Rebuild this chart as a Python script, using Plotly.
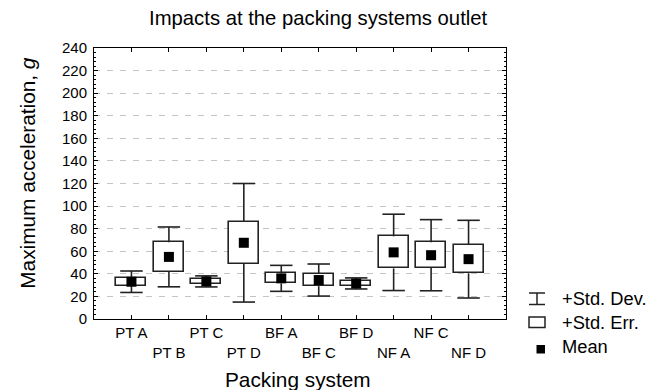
import plotly.graph_objects as go

categories = ["PT A", "PT B", "PT C", "PT D", "BF A", "BF C", "BF D", "NF A", "NF C", "NF D"]
means = [33, 55, 33.3, 67.5, 36, 34.5, 31.5, 59, 56.5, 53]
std_err = [3.5, 13, 2.0, 18.7, 4.4, 5.4, 2.3, 14.2, 11.4, 12.5]
std_dev = [9.5, 26.5, 4.9, 52.5, 11.5, 14.2, 4.9, 33.8, 31.5, 34.4]
y_ticks = list(range(0, 241, 20))

xpos = list(range(1, len(categories) + 1))
ticktext = [c if i % 2 == 0 else "<br>" + c for i, c in enumerate(categories)]

FONT = "Liberation Sans, Arial, sans-serif"
LINE = "#222222"
CAP = 0.3

fig = go.Figure()

# Std. Err. boxes
fig.add_trace(go.Bar(
    x=xpos,
    y=[2 * s for s in std_err],
    base=[m - s for m, s in zip(means, std_err)],
    width=0.8,
    marker=dict(color="white", line=dict(color=LINE, width=1.6)),
    showlegend=False, hoverinfo="skip",
))

# Std. Dev. whiskers (outside of boxes) with caps
wx, wy = [], []
for x, m, se, sd in zip(xpos, means, std_err, std_dev):
    wx += [x, x, None, x, x, None, x - CAP, x + CAP, None, x - CAP, x + CAP, None]
    wy += [m + se, m + sd, None, m - se, m - sd, None, m + sd, m + sd, None, m - sd, m - sd, None]
fig.add_trace(go.Scatter(
    x=wx, y=wy, mode="lines",
    line=dict(color=LINE, width=1.6),
    showlegend=False, hoverinfo="skip",
))

# Means
fig.add_trace(go.Scatter(
    x=xpos, y=means, mode="markers",
    marker=dict(symbol="square", size=10, color="black"),
    showlegend=False,
))

fig.update_layout(
    width=660, height=390,
    margin=dict(l=94, r=154, t=48, b=71),
    paper_bgcolor="white", plot_bgcolor="white",
    font=dict(family=FONT, size=15, color="black"),
    title=dict(text="Impacts at the packing systems outlet", x=0.482, xanchor="center",
               y=0.955, yanchor="middle", font=dict(size=20.3)),
    bargap=0,
)

fig.update_xaxes(
    range=[0, 11], tickmode="array", tickvals=xpos, ticktext=ticktext,
    showline=True, linecolor="black", linewidth=1, mirror="ticks",
    ticks="inside", ticklen=4, tickcolor="black", showgrid=False, zeroline=False,
)
fig.update_yaxes(
    range=[0, 240], tickmode="array", tickvals=y_ticks,
    showline=True, linecolor="black", linewidth=1, mirror="ticks",
    ticks="inside", ticklen=4, tickcolor="black",
    minor=dict(ticks="inside", ticklen=2, dtick=4, tickcolor="black", showgrid=False),
    showgrid=True, gridcolor="#c4c4c4", griddash="6px,7px", gridwidth=1,
    zeroline=False, ticklabelstandoff=3,
)

# Axis titles
fig.add_annotation(text="Maximum acceleration, <i>g</i>", xref="paper", yref="paper",
                   x=-0.16, y=0.54, textangle=-90, showarrow=False,
                   font=dict(size=20.8), xanchor="center", yanchor="middle")
fig.add_annotation(text="Packing system", xref="paper", yref="paper",
                   x=0.495, y=-0.222, showarrow=False, font=dict(size=20.8),
                   xanchor="center", yanchor="middle")

# Legend (drawn manually)
def px(x):
    return (x - 94) / (506 - 94)
def py(y):
    return (319 - y) / (319 - 48)
for (x0, y0, x1, y1) in [(529, 293, 545, 293), (529, 304.5, 545, 304.5), (537, 293, 537, 304.5)]:
    fig.add_shape(type="line", xref="paper", yref="paper", x0=px(x0), y0=py(y0), x1=px(x1), y1=py(y1),
                  line=dict(color=LINE, width=1.5))
fig.add_shape(type="rect", xref="paper", yref="paper", x0=px(529), y0=py(317), x1=px(545), y1=py(327.5),
              line=dict(color=LINE, width=1.5), fillcolor="white")
fig.add_shape(type="rect", xref="paper", yref="paper", x0=px(536.5), y0=py(345), x1=px(545), y1=py(353.5),
              line=dict(color="black", width=0), fillcolor="black")
for label, yc in [("+Std. Dev.", 298), ("+Std. Err.", 322), ("Mean", 346)]:
    fig.add_annotation(text=label, xref="paper", yref="paper", x=px(560), y=py(yc),
                       showarrow=False, xanchor="left", yanchor="middle", font=dict(size=18.3))

fig.write_html("out.html")
